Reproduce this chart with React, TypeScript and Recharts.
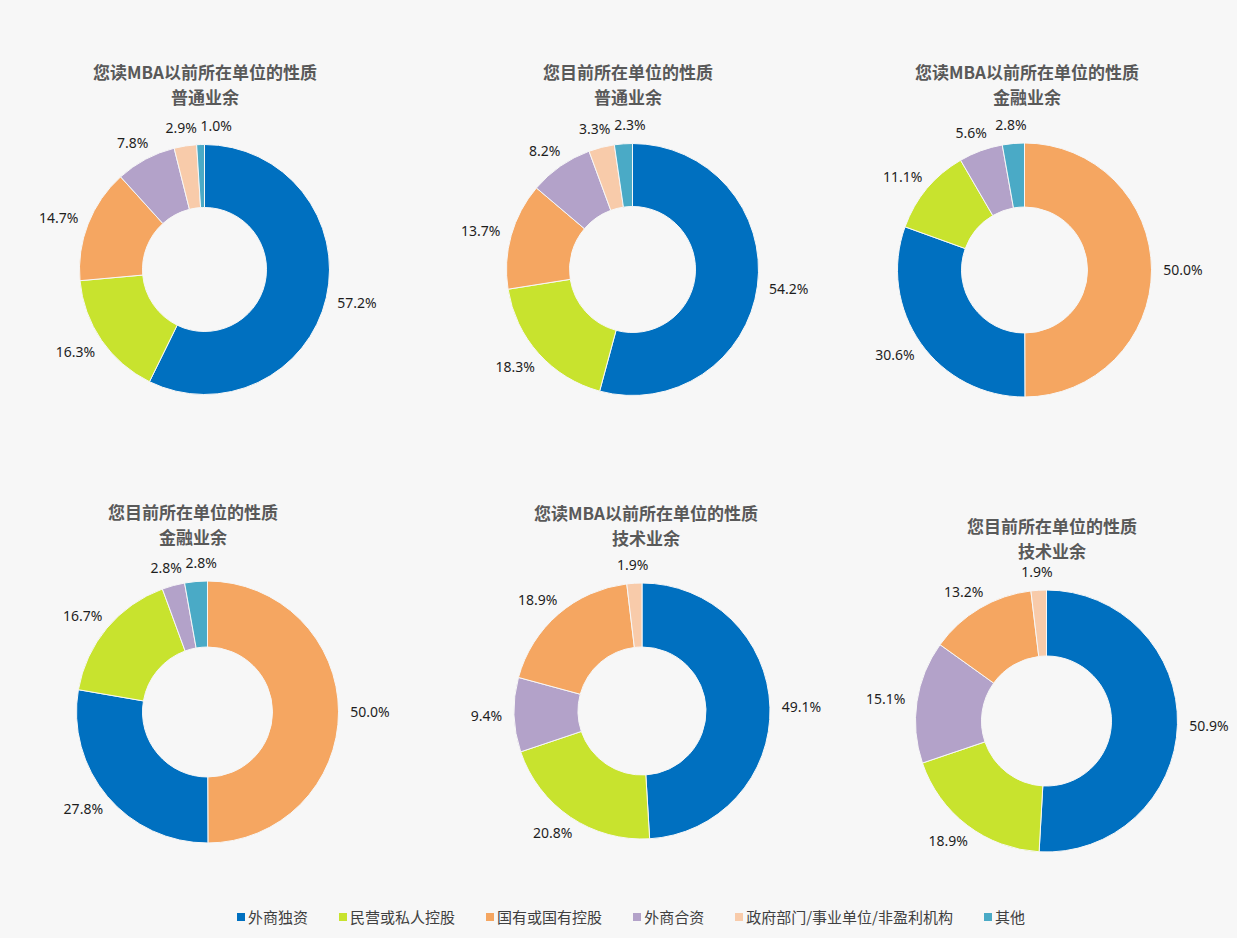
import { Pie, PieChart, Cell } from "recharts"

const categories = ["外商独资", "民营或私人控股", "国有或国有控股", "外商合资", "政府部门/事业单位/非盈利机构", "其他"]
const categoryColors = ["#0070C0", "#C8E32E", "#F5A661", "#B3A2C9", "#F8CBAA", "#4AAAC6"]

const titleLine1 = [
  "您读MBA以前所在单位的性质",
  "您目前所在单位的性质",
  "您读MBA以前所在单位的性质",
  "您目前所在单位的性质",
  "您读MBA以前所在单位的性质",
  "您目前所在单位的性质",
]
const titleLine2 = ["普通业余", "普通业余", "金融业余", "金融业余", "技术业余", "技术业余"]

// slice order as drawn clockwise from 12 o'clock
const chart1Names = ["外商独资", "民营或私人控股", "国有或国有控股", "外商合资", "政府部门/事业单位/非盈利机构", "其他"]
const chart1Values = [57.2, 16.3, 14.7, 7.8, 2.9, 1.0]
const chart2Names = ["外商独资", "民营或私人控股", "国有或国有控股", "外商合资", "政府部门/事业单位/非盈利机构", "其他"]
const chart2Values = [54.2, 18.3, 13.7, 8.2, 3.3, 2.3]
const chart3Names = ["国有或国有控股", "外商独资", "民营或私人控股", "外商合资", "其他"]
const chart3Values = [50.0, 30.6, 11.1, 5.6, 2.8]
const chart4Names = ["国有或国有控股", "外商独资", "民营或私人控股", "外商合资", "其他"]
const chart4Values = [50.0, 27.8, 16.7, 2.8, 2.8]
const chart5Names = ["外商独资", "民营或私人控股", "外商合资", "国有或国有控股", "政府部门/事业单位/非盈利机构"]
const chart5Values = [49.1, 20.8, 9.4, 18.9, 1.9]
const chart6Names = ["外商独资", "民营或私人控股", "外商合资", "国有或国有控股", "政府部门/事业单位/非盈利机构"]
const chart6Values = [50.9, 18.9, 15.1, 13.2, 1.9]

const allNames = [chart1Names, chart2Names, chart3Names, chart4Names, chart5Names, chart6Names]
const allValues = [chart1Values, chart2Values, chart3Values, chart4Values, chart5Values, chart6Values]

const W = 1237
const H = 938
const BG = "#f7f7f7"
const NUM_FONT = "'Noto Sans', 'DejaVu Sans', sans-serif"
const CJK_FONT = "'Noto Sans CJK SC', 'Noto Sans', sans-serif"

const layout = [
  { cx: 204.5, cy: 269.5, r: 125, ir: 62, tx: 205, ty: 59 },
  { cx: 632.5, cy: 269.5, r: 126, ir: 63, tx: 628, ty: 59 },
  { cx: 1024.5, cy: 270, r: 127, ir: 63, tx: 1027, ty: 59 },
  { cx: 207.5, cy: 712, r: 131, ir: 65, tx: 193, ty: 499 },
  { cx: 642, cy: 711, r: 128, ir: 64, tx: 646, ty: 500 },
  { cx: 1046.5, cy: 721, r: 131, ir: 65, tx: 1052, ty: 513 },
]

const RAD = Math.PI / 180
const GAP = 12
const LABEL_H = 14

const fmt = (v: number) => `${v.toFixed(1)}%`
const textWidth = (s: string) =>
  [...s].reduce((w, ch) => w + (ch === "." ? 3.6 : ch === "%" ? 11.5 : 8), 0)

// nudge labels sideways when two neighbouring ones collide
function labelNudges(values: number[], r: number) {
  const total = values.reduce((a, b) => a + b, 0)
  let cum = 0
  const boxes = values.map((v) => {
    const mid = 90 - (360 * (cum + v / 2)) / total
    cum += v
    const ux = Math.cos(-mid * RAD)
    const uy = Math.sin(-mid * RAD)
    const w = textWidth(fmt(v))
    const x = (r + GAP) * ux + (ux * w) / 2
    const y = (r + GAP) * uy + (uy * LABEL_H) / 2
    return { x, y, w }
  })
  const dx = values.map(() => 0)
  for (let i = 1; i < boxes.length; i++) {
    const a = boxes[i - 1]
    const b = boxes[i]
    const bx = b.x + dx[i]
    const ax = a.x + dx[i - 1]
    const overlapX = (a.w + b.w) / 2 - Math.abs(bx - ax)
    const overlapY = LABEL_H - Math.abs(b.y - a.y)
    if (overlapX > -4 && overlapY > 0 && b.y < 0) {
      dx[i] += overlapX + 4
    }
  }
  return dx
}

function makeLabel(values: number[], r: number) {
  const dx = labelNudges(values, r)
  return (props: any) => {
    const { cx, cy, midAngle, outerRadius, value, index } = props
    const ux = Math.cos(-midAngle * RAD)
    const uy = Math.sin(-midAngle * RAD)
    const text = fmt(value)
    const w = textWidth(text)
    const x = cx + (outerRadius + GAP) * ux + (ux * w) / 2 + dx[index]
    const y = cy + (outerRadius + GAP) * uy + (uy * LABEL_H) / 2
    return (
      <text
        x={x}
        y={y}
        textAnchor="middle"
        dominantBaseline="central"
        fontSize={14}
        fontFamily={NUM_FONT}
        fill="#1e1e1e"
      >
        {text}
      </text>
    )
  }
}

function Legend() {
  return (
    <div
      style={{
        position: "absolute",
        left: 0,
        top: 905,
        width: W,
        display: "flex",
        justifyContent: "center",
        paddingLeft: 25,
        boxSizing: "border-box",
        gap: 31,
        fontFamily: CJK_FONT,
        fontSize: 15,
        color: "#404040",
        lineHeight: "24px",
      }}
    >
      {categories.map((c, i) => (
        <div key={c} style={{ display: "flex", alignItems: "center" }}>
          <span style={{ width: 8, height: 8, background: categoryColors[i], marginRight: 3, display: "inline-block" }} />
          <span>{c}</span>
        </div>
      ))}
    </div>
  )
}

export default function App() {
  return (
    <div style={{ position: "absolute", left: 0, top: 0, width: W, height: H, background: BG, overflow: "hidden" }}>
      <PieChart
        width={W}
        height={H}
        margin={{ top: 0, right: 0, bottom: 0, left: 0 }}
        style={{ position: "absolute", left: 0, top: 0 }}
      >
        {allValues.map((vals, k) => {
          const L = layout[k]
          const data = vals.map((v, i) => ({ name: allNames[k][i], value: v }))
          return (
            <Pie
              key={k}
              data={data}
              dataKey="value"
              nameKey="name"
              cx={L.cx}
              cy={L.cy}
              innerRadius={L.ir}
              outerRadius={L.r}
              startAngle={90}
              endAngle={-270}
              stroke={BG}
              strokeWidth={1}
              labelLine={false}
              label={makeLabel(vals, L.r)}
              isAnimationActive={false}
            >
              {data.map((d) => (
                <Cell key={d.name} fill={categoryColors[categories.indexOf(d.name)]} />
              ))}
            </Pie>
          )
        })}
      </PieChart>
      {layout.map((L, k) => (
        <div
          key={k}
          style={{
            position: "absolute",
            left: L.tx - 150,
            top: L.ty,
            width: 300,
            textAlign: "center",
            fontFamily: CJK_FONT,
            fontWeight: 700,
            fontSize: 17,
            lineHeight: "25px",
            color: "#595959",
          }}
        >
          <div>{titleLine1[k]}</div>
          <div>{titleLine2[k]}</div>
        </div>
      ))}
      <Legend />
    </div>
  )
}
